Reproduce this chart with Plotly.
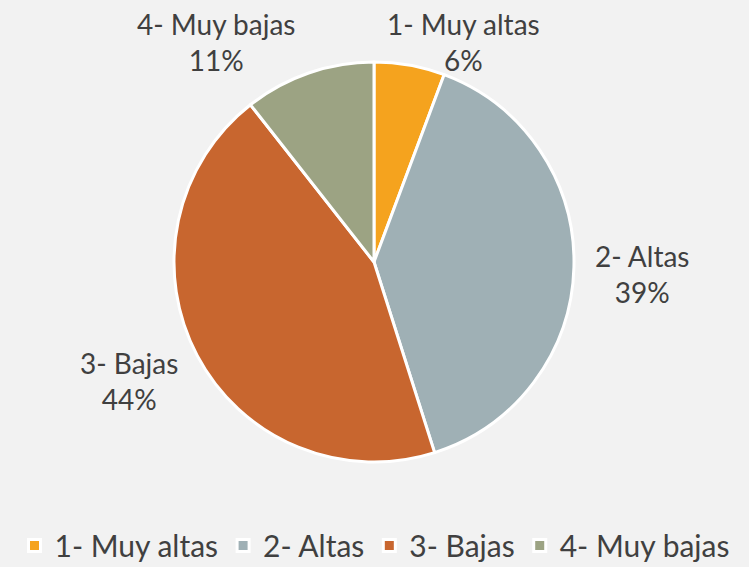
import plotly.graph_objects as go

categories = ["1- Muy altas", "2- Altas", "3- Bajas", "4- Muy bajas"]
values = [5.7, 39.4, 44.3, 10.6]
percent_labels = ["6%", "39%", "44%", "11%"]
colors = ["#F5A31E", "#9FB0B5", "#C8662F", "#9CA383"]

# label anchor positions (paper fractions), layout only
label_x = [463 / 749, 642 / 749, 129 / 749, 216 / 749]
label_y = [1 - 42 / 567, 1 - 274 / 567, 1 - 381 / 567, 1 - 42 / 567]

W, H = 749, 567
cx, cy, r = 374, 262, 200

fig = go.Figure(go.Pie(
    labels=categories,
    values=values,
    sort=False,
    direction="clockwise",
    rotation=0,
    marker=dict(colors=colors, line=dict(color="white", width=3)),
    textinfo="none",
    domain=dict(x=[(cx - r) / W, (cx + r) / W], y=[(H - cy - r) / H, (H - cy + r) / H]),
    showlegend=True,
))

for cat, pct, lx, ly in zip(categories, percent_labels, label_x, label_y):
    fig.add_annotation(
        x=lx, y=ly, xref="paper", yref="paper",
        text=f"{cat}<br>{pct}", showarrow=False,
        xanchor="center", yanchor="middle", align="center",
        font=dict(size=28, color="#404040", family="Lato, sans-serif"),
    )

fig.update_layout(
    width=W, height=H,
    margin=dict(l=0, r=0, t=0, b=0, autoexpand=False),
    paper_bgcolor="#F2F2F2",
    plot_bgcolor="#F2F2F2",
    font=dict(family="Lato, sans-serif", color="#404040"),
    legend=dict(orientation="h", x=0.5, xanchor="center", y=-0.008, yanchor="bottom",
                font=dict(size=30, color="#404040"), itemwidth=30, traceorder="normal"),
)

fig.write_html("out.html", config={"displayModeBar": False},
               post_script="document.body.style.margin='0';")
